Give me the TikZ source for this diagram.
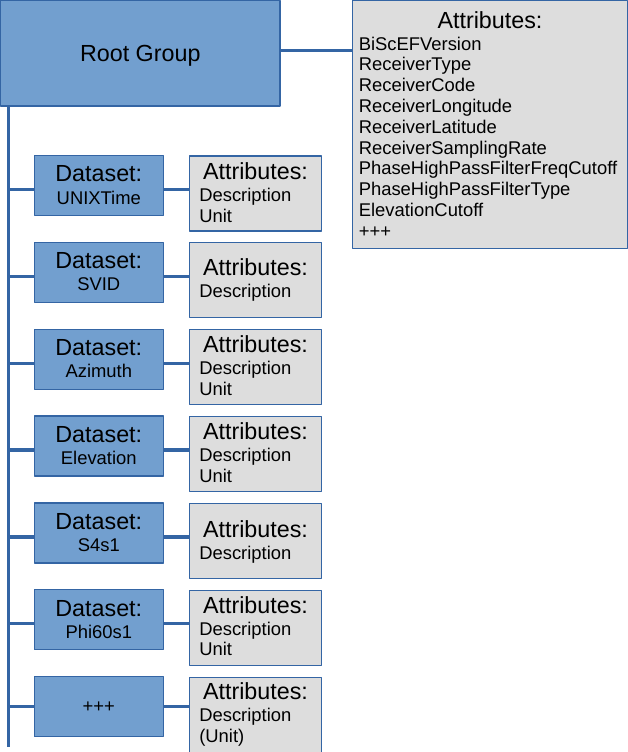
\documentclass[tikz,border=0pt]{standalone}
\usepackage{fontspec}
\setmainfont{Liberation Sans}
\usetikzlibrary{calc}
\definecolor{nenxanh}{HTML}{729FCF}
\definecolor{vienxanh}{HTML}{3465A4}
\definecolor{nenxam}{HTML}{DDDDDD}
\newcommand{\chulon}{\fontsize{23.3}{28}\selectfont}
\newcommand{\chunho}{\fontsize{18.4}{21}\selectfont}

\begin{document}
\begin{tikzpicture}[x=1pt, y=-1pt, line join=round,
	hop/.style={draw=vienxanh, line width=1.2pt, inner sep=0pt},
	hopxanh/.style={hop, fill=nenxanh},
	hopxam/.style={hop, fill=nenxam},
	chu/.style={inner sep=0pt},
	noi/.style={draw=vienxanh, line width=3.2pt}]
	% Khung hình
	\useasboundingbox (0,0) rectangle (628,752);
	% Nhóm gốc và hộp thuộc tính của nó
	\node[hopxanh, minimum width=279.3pt, minimum height=105.7pt] (root) at (140.3,53.2) {};
	\node[chu, anchor=base, font=\chulon] (roottitle) at ([yshift=-62.2pt]root.north) {Root Group};
	\node[hopxam, minimum width=274.6pt, minimum height=247.8pt] (rootattr) at (490,124.4) {};
	\node[chu, anchor=base, font=\chulon] (rootattrtitle) at ([yshift=-28.8pt]rootattr.north) {Attributes:};
	\foreach \t [count=\k from 0] in {BiScEFVersion, ReceiverType, ReceiverCode, ReceiverLongitude, ReceiverLatitude, ReceiverSamplingRate, PhaseHighPassFilterFreqCutoff, PhaseHighPassFilterType, ElevationCutoff, +++}
	\node[chu, anchor=base west, font=\chunho] (rootattr\k) at ([xshift=6.5pt, yshift={-(50.2+20.8*\k)}]rootattr.north west) {\t};
	% Các dataset
	\foreach \i/\ten in {1/UNIXTime, 2/SVID, 3/Azimuth, 4/Elevation, 5/S4s1, 6/Phi60s1}{
		\node[hopxanh, minimum width=129pt, minimum height=60pt] (ds\i) at (98.8,{185.3+86.9*(\i-1)}) {};
		\node[chu, anchor=base, font=\chulon] (dstitle\i) at ([yshift=-27pt]ds\i.north) {Dataset:};
		\node[chu, anchor=base, font=\chunho] (dsname\i) at ([yshift=-49.3pt]ds\i.north) {\ten};
	}
	\node[hopxanh, minimum width=129pt, minimum height=60pt, font=\chunho] (ds7) at (98.8,706.7) {+++};
	% Hộp thuộc tính của từng dataset
	\foreach \i/\dt/\ds in {1/24.5/{Description,Unit}, 2/33.5/{Description}, 3/23.5/{Description,Unit}, 4/23.5/{Description,Unit}, 5/34.5/{Description}, 6/23.5/{Description,Unit}, 7/23/{Description,(Unit)}}{
		\node[hopxam, minimum width=131.6pt, minimum height=75pt, anchor=north] (at\i) at (255.5,{155.3+86.9*(\i-1)}) {};
		\node[chu, anchor=base, font=\chulon] (attitle\i) at ([yshift=-\dt pt]at\i.north) {Attributes:};
		\foreach \d [count=\j] in \ds
		\node[chu, anchor=base west, font=\chunho] (atline\i\j) at ([xshift=10pt, yshift={-(\dt+1.5+20.5*\j)}]at\i.north west) {\d};
	}
	% Đường nối
	\coordinate (truc) at (8.3,747.3);
	\draw[noi] (truc |- root.south) -- (truc);
	\draw[noi] ([yshift=3pt]root.east) -- ([yshift=3pt]root.east -| rootattr.west);
	\foreach \i/\dy in {1/-4, 2/-4, 3/-4, 4/-4, 5/-4, 6/-4, 7/0}{
		\draw[noi] ([yshift=\dy pt]ds\i.west -| truc) -- ([yshift=\dy pt]ds\i.west);
		\draw[noi] ([yshift=\dy pt]ds\i.east) -- ([yshift=\dy pt]ds\i.east -| at\i.west);
	}
\end{tikzpicture}
\end{document}
